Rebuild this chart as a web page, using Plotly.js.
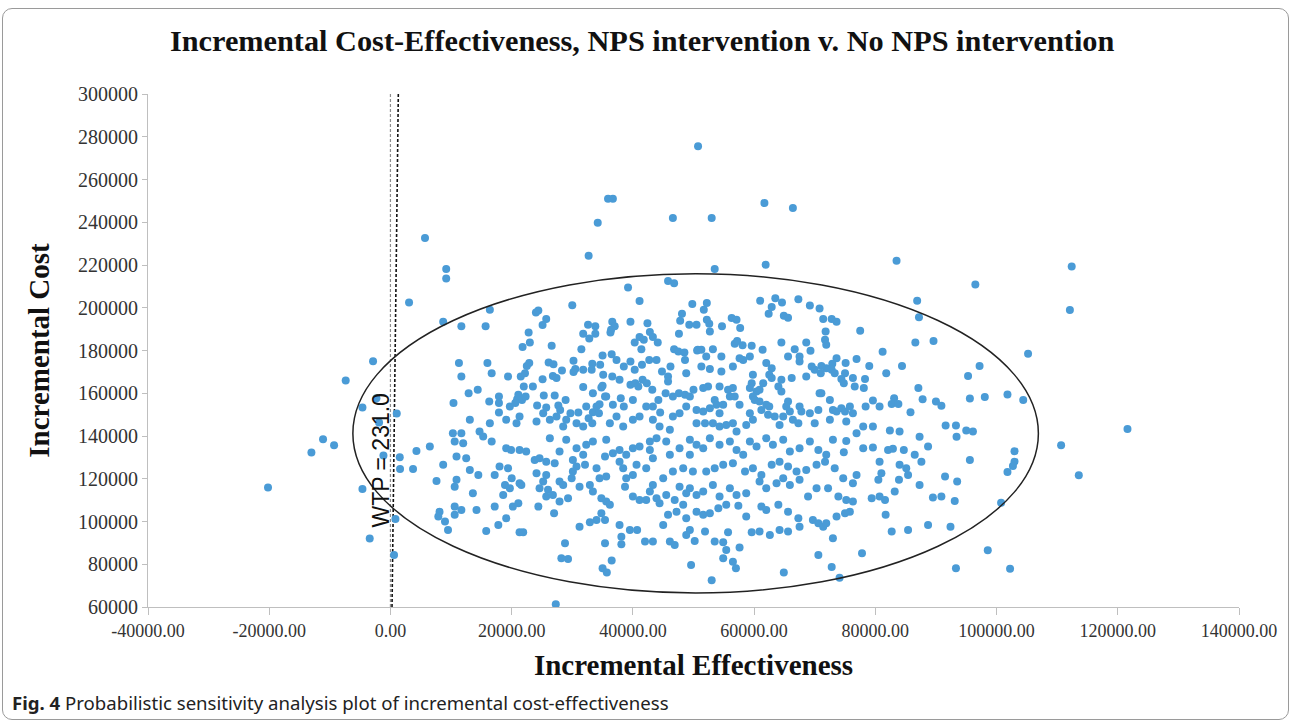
<!DOCTYPE html>
<html><head><meta charset="utf-8">
<script src="https://cdn.plot.ly/plotly-3.0.1.min.js"></script>
<style>
html,body{margin:0;padding:0;background:#fff;}
#wrap{position:relative;width:1292px;height:722px;}
#chart{width:1292px;height:722px;}
#frame{position:absolute;left:2px;top:8px;width:1287px;height:712px;border:1px solid #9a9a9a;border-radius:10px;box-sizing:border-box;pointer-events:none;}
</style></head><body>
<div id="wrap"><div id="chart"></div><div id="frame"></div></div>
<script>
// Outlying simulations (outside / on the edge of the ellipse)
const effOutliers = [5700,35900,36700,34200,32700,46600,50750,53000,61700,66400,
83500,3070,-2870,-7380,-2310,-4620,1040,-1880,-11120,-13040,
-9300,-20200,-1155,1535,1585,3730,4290,-4620,825,-3420,
594,112400,112100,105200,97200,98060,101800,104400,121600,102960,
102960,102700,101800,110650,113570,100750,98550,102230,27280];
const costOutliers = [232600,251000,251000,239800,224300,242000,275500,242000,249000,246700,
222000,202500,175000,166000,157700,153300,150500,146300,138500,132250,
135700,115850,130850,130100,124600,124600,133000,115250,101200,92000,
84350,219300,198900,178500,172800,158200,159400,156800,143300,132900,
128000,126000,123100,135700,121650,108830,86550,77930,61260];

// Upper-left part of the cloud
const effUpperLeft = [9200,9200,30000,39200,45800,46800,41100,49800,16400,8700,
11700,15700,24000,24400,25700,25100,22800,32600,33800,33800,
31800,32800,36600,37000,36400,36300,39600,42400,42800,43300,
41100,41800,40300,41400,44100,48100,47800,49300,50500,47600,
46800,47500,48500,50600,23000,21800,26600,31500,35000,36500,
37300,34600,33300,33200,31800,30500,30200,30200,11300,16000,
11700,16700,19400,21500,22500,22900,22200,25100,26100,26900,
26800,27400,28300,10400,12900,14400,16300,17900,17900,17900,
19700,20900,21100,21700,22300,20600,23500,22000,24200,25300,
25700,27100,27700,28000,28900,29700,31000,31800,32300,33400,
33400,32700,34000,34800,35000,34500,35600,36700,38000,38500,
39600,40400,40900,41600,42300,43200,43300,44200,44500,45400,
45800,45800,46600,47600,48600,49400,50000,50500,48800,48600,
50700,46200,44800,43900,42700,41500,40300,39600,38500,37800,
36600,35100,35400,34400,33300,31800,30700,29000,28500,27400,
26300,25200,24100,21300,20800,19100,16400,14700,11700,10300,
13100,42200,41100,40000,38400,37300,36200,40000,43300,44400,
46600,47700,48800,50500,46100];
const costUpperLeft = [218100,213700,201200,209500,212500,211500,203100,201700,199100,193400,
191300,191300,197800,198700,194700,191900,188400,192000,191300,187800,
187800,185600,193400,191400,189700,188400,193400,192800,188600,186300,
186300,185000,183800,180600,183800,197200,193900,192000,192000,187800,
180600,179500,179100,180000,183800,181600,182200,180600,177700,178300,
175600,173300,173800,171000,171000,171300,170000,175200,174100,174100,
167800,169400,167800,167800,172800,174100,169400,166600,174400,173600,
168100,167100,170700,155400,160000,161600,156100,158500,155400,151000,
153800,157200,159300,156900,158500,155400,163200,163200,154300,159000,
153300,159000,154300,152200,156800,150700,151000,162900,153800,160000,
151100,148300,153800,162700,163500,154900,158500,154600,157700,153800,
164000,164700,163200,166300,164700,161600,153800,156900,151000,160000,
167800,165500,158500,160000,159300,158500,161600,152200,169400,175600,
180300,172500,170200,175600,175600,173300,171000,174900,172500,166300,
167800,168600,158500,150700,146000,144400,146000,147600,144400,149100,
147600,150700,146800,149100,146000,147600,146000,142100,141300,141300,
147600,153800,149100,147600,144400,149100,146000,156900,147600,144400,
149100,150700,153800,146000,142900];

// Upper-right part of the cloud
const effUpperRight = [53500,61900,96500,86900,87200,77500,81200,86600,89600,84400,
81800,79000,95300,87100,87800,90000,90900,95600,85800,83100,
82700,83800,91600,93300,95000,96100,80700,79600,78400,78100,
78300,76900,75100,75000,74400,74800,76300,76600,73600,72900,
72800,73300,71900,71100,71000,70800,70000,69500,68600,67500,
67500,66700,65600,64500,68600,69300,71800,71700,71900,72800,
73600,71400,70800,69200,67300,64600,63500,62900,62400,64900,
65600,61000,62500,61400,59600,58100,56800,57200,56300,57100,
57700,54700,52200,52600,52700,51700,52200,53200,52100,51300,
54600,59300,58200,57600,56500,54600,52700,51300,62000,62900,
62500,62900,64500,66200,61500,59800,59600,59300,60400,60900,
56500,55700,56000,56800,54300,52400,51600,53500,53800,54900,
52700,51600,54300,57600,59800,60100,60900,62000,64000,64500,
65600,65300,65900,64800,63400,62300,61200,59300,59800,58700,
56500,55400,54300,53200,51900,57100,64200,66400,67500,67800,
69200,70600,67300,71100,72500,73000,73600,74400,75000,75800,
76300,75200,72500,70000,78000,79600,82400,84000,76900];
const costUpperRight = [218100,220100,210900,203300,195600,189200,179400,183800,184400,172800,
169400,172800,168100,162400,157200,156100,154100,157500,151100,157700,
155000,155000,144900,144900,142600,142100,153800,156600,153800,162400,
166700,176000,174100,169400,166700,164700,167100,163200,176400,173800,
171000,169400,171700,172800,169400,160000,171000,172500,167800,177200,
174900,180600,177200,183800,183800,179900,188900,185000,182700,194700,
193400,194700,199700,201100,204000,202500,204500,200300,197200,196200,
195300,203300,153800,180300,182200,182500,183100,184500,195200,194400,
190500,191300,194400,192500,188900,199100,202200,180600,177200,180300,
177200,177200,175600,176400,172500,170200,171400,172500,174100,171700,
168600,167100,166300,167100,164700,168600,164700,162400,160800,161600,
162400,161600,158500,158500,163200,163200,162400,156900,154600,154600,
153000,151500,150700,154600,158500,156900,156100,154600,163200,160800,
156100,153800,151500,149100,149100,149900,152200,150700,147600,145200,
146000,145200,144400,146000,146000,142100,145200,147600,153800,151500,
150700,152200,146000,160000,156900,152200,151500,153000,151500,153800,
150700,146800,147600,146000,144400,144400,142600,142100,141300];

// Lower-left part of the cloud
const effLowerLeft = [6500,8700,7600,10600,12000,10900,12500,10600,10900,13600,
13100,14500,8100,7900,9000,9500,10600,10600,11700,14200,
15800,17200,17800,19100,20200,21100,21300,21900,17200,18000,
19400,20000,18900,18600,19700,21300,21600,16700,15300,19100,
19900,21300,22400,23800,24600,25700,27100,24100,25700,25200,
24600,26000,25700,26800,27900,28500,29300,27900,27000,24400,
26300,27900,29000,30100,30700,31800,32100,30100,29900,31200,
32900,33400,34800,35600,36200,34800,35400,34000,32900,31200,
28800,28200,29300,35400,36500,35000,35700,37800,38100,38100,
39500,40700,42000,43300,45000,46100,46900,45800,47200,48800,
49400,48800,50200,49600,34500,35600,34000,35400,36700,37800,
38900,40000,41100,42800,43900,45500,47700,49400,50500,38400,
38900,38700,40000,41100,42200,42800,43900,44400,43300,45000,
46600,48300,49900,49400,50500,48800,47700,45500,46900,50500,
48300,35600,33400,32300,30700,37800,40600,42200,40000,43300,
42800,46100,49400];
const costLowerLeft = [135100,126500,119000,137400,136600,130400,129600,116300,119500,113200,
124100,121800,104600,102300,100000,96000,107000,103100,105400,105400,
95600,107000,98400,101500,107000,108500,95000,95000,121800,125700,
124900,120200,117100,112400,115600,117900,117100,137400,139800,134300,
133500,133500,132700,128800,129600,128000,127300,122600,121800,118700,
115600,114800,111700,112400,118700,117100,110900,109300,103900,107000,
139000,132700,138200,128800,125700,131200,126500,123400,120200,116300,
117100,114000,110900,109300,107800,103900,100700,100700,99600,97600,
89800,82800,82500,89800,81700,78100,76100,98400,92900,89300,
96000,96000,90600,90600,98400,90600,89000,103100,104600,101500,
96000,93700,90900,79700,120200,121000,124900,130400,131900,133500,
131200,134300,135100,137400,139000,137400,134300,131200,135900,124900,
120200,116300,111700,110100,110100,114000,110900,108500,117100,120200,
123400,124900,123400,115600,112400,113200,116300,112400,110100,104600,
107800,138200,137400,135900,134300,128000,126500,124900,121800,129600,
133500,131200,138200];

// Lower-right part of the cloud
const effLowerRight = [51600,52700,54300,56000,57100,58200,59300,60400,62000,63100,
64800,65900,67500,69200,70600,71900,73000,75200,74800,78000,
79600,82100,82900,84700,86500,87600,88700,95600,87300,93400,
52100,53500,54900,56500,58500,59800,61200,62900,64200,65600,
67000,68600,70300,71700,73300,74700,76900,80700,81000,80500,
84000,85100,85400,83900,83200,87300,91500,93500,51600,53200,
54300,56000,57100,58700,60900,62000,63700,64800,65900,67500,
68900,70300,72200,73900,75200,76300,76300,79400,80700,81600,
89500,90900,93100,51600,52700,54100,55400,57400,58700,61200,
62000,64000,65600,67300,69700,70600,71400,71900,73600,75000,
75800,81700,82700,85400,88700,92400,51900,53500,54900,55700,
57600,59600,60900,62600,64200,65600,67500,73000,55400,54900,
56500,57000,53000,64900,70600,72800,74100,77800,93300];
const costLowerRight = [134300,139000,135900,137400,133500,131200,137400,135100,139000,135900,
138200,132700,134300,137400,133500,131200,138200,137700,132400,134300,
134600,133500,134000,133500,131200,128000,135100,128800,139700,139700,
123400,124900,126500,127300,123400,124900,121800,126500,128000,125700,
123400,124100,126500,128000,124900,120200,121800,128000,122600,119500,
126500,124900,121800,119500,114000,117100,121000,118700,114000,117100,
111700,115600,112400,113200,118700,115600,117900,120200,117100,119500,
111700,115600,115600,111700,110100,109300,117900,110900,111700,110100,
111200,111700,109600,103100,103900,106200,107800,107400,102300,107000,
105400,107800,104600,101500,100700,99200,97600,99200,102300,103900,
104600,103100,95300,96000,98400,97600,95300,90600,90300,95000,
87800,95000,95300,93700,96000,95300,97600,92200,86700,82800,
81200,78100,72500,76100,84300,78700,73700,85100,78100];

// Reference lines and confidence ellipse (data units)
const zeroLineX = [0, 0];
const zeroLineY = [60000, 300000];
const wtpValue = "231.0";
const wtpLineX = [260, 1299];
const wtpLineY = [60000, 300000];
const ellipseX = [-6200, 106900];
const ellipseY = [66550, 215900];

// Axis ticks and their labels
const xTicks = [-40000,-20000,0,20000,40000,60000,80000,100000,120000,140000];
const xTickLabels = ["-40000.00","-20000.00","0.00","20000.00","40000.00","60000.00","80000.00","100000.00","120000.00","140000.00"];
const yTicks = [60000,80000,100000,120000,140000,160000,180000,200000,220000,240000,260000,280000,300000];
const yTickLabels = ["60000","80000","100000","120000","140000","160000","180000","200000","220000","240000","260000","280000","300000"];

const effAll = [].concat(effOutliers, effUpperLeft, effUpperRight, effLowerLeft, effLowerRight);
const costAll = [].concat(costOutliers, costUpperLeft, costUpperRight, costLowerLeft, costLowerRight);

const serif = '"Liberation Serif", "Times New Roman", serif';

const traces = [
  {x: zeroLineX, y: zeroLineY, type: 'scatter', mode: 'lines',
   line: {color: '#8c8c8c', width: 1.2, dash: '3px,2px'}, hoverinfo: 'skip', showlegend: false},
  {x: wtpLineX, y: wtpLineY, type: 'scatter', mode: 'lines',
   line: {color: '#111111', width: 1.6, dash: '3px,2px'}, hoverinfo: 'skip', showlegend: false},
  {x: effAll, y: costAll, type: 'scatter', mode: 'markers',
   marker: {color: '#4a9bd6', size: 8}, showlegend: false}
];

const layout = {
  width: 1292, height: 722,
  margin: {l: 148, r: 53, t: 94, b: 115},
  paper_bgcolor: 'rgba(0,0,0,0)', plot_bgcolor: 'rgba(0,0,0,0)',
  font: {family: serif, color: '#333'},
  title: {text: '<b>Incremental Cost-Effectiveness, NPS intervention v. No NPS intervention</b>',
          font: {family: serif, size: 30.3, color: '#111'},
          x: 0.497, xref: 'container', xanchor: 'center', y: 0.944, yref: 'container', yanchor: 'middle'},
  xaxis: {range: [-40000, 140000], tickmode: 'array', tickvals: xTicks, ticktext: xTickLabels,
          showgrid: false, zeroline: false, showline: true, linecolor: '#bfbfbf', linewidth: 1,
          ticks: 'outside', ticklen: 7, tickcolor: '#bfbfbf',
          tickfont: {family: serif, size: 18, color: '#333'},
          title: {text: '<b>Incremental Effectiveness</b>', font: {family: serif, size: 29, color: '#111'}, standoff: 15}},
  yaxis: {range: [60000, 300000], tickmode: 'array', tickvals: yTicks, ticktext: yTickLabels,
          showgrid: false, zeroline: false, showline: true, linecolor: '#bfbfbf', linewidth: 1,
          ticks: 'outside', ticklen: 5, tickcolor: '#bfbfbf',
          tickfont: {family: serif, size: 20, color: '#333'},
          title: {text: '<b>Incremental Cost</b>', font: {family: serif, size: 29, color: '#111'}, standoff: 19}},
  shapes: [
    {type: 'circle', xref: 'x', yref: 'y', x0: ellipseX[0], x1: ellipseX[1], y0: ellipseY[0], y1: ellipseY[1],
     line: {color: '#222', width: 1.5}, fillcolor: 'rgba(0,0,0,0)', layer: 'above'}
  ],
  annotations: [
    {x: -1600, y: 128400, xref: 'x', yref: 'y', text: 'WTP = ' + wtpValue, textangle: -90,
     showarrow: false, font: {family: '"Liberation Sans", Arial, sans-serif', size: 23, color: '#111'}},
    {xref: 'paper', yref: 'paper', x: (10 - 148) / 1091, y: -(702 - 607) / 513,
     xanchor: 'left', yanchor: 'middle', showarrow: false,
     text: '<b>Fig. 4</b> Probabilistic sensitivity analysis plot of incremental cost-effectiveness',
     font: {family: '"Noto Sans", "Open Sans", sans-serif', size: 18.6, color: '#222'}}
  ]
};

Plotly.newPlot('chart', traces, layout, {displayModeBar: false, staticPlot: true});
</script>
</body></html>
